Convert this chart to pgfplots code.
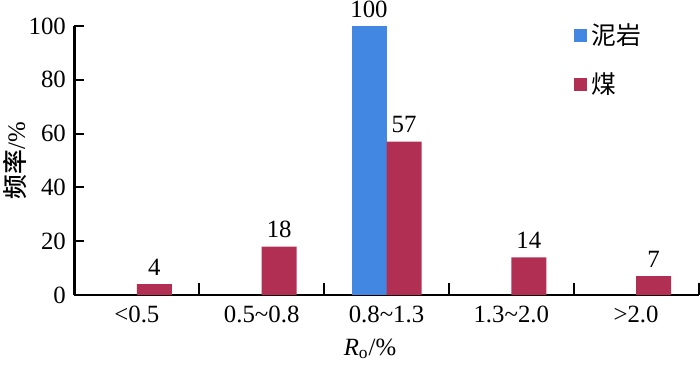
\documentclass[border=0pt]{standalone}
\usepackage{pgfplots}
\pgfplotsset{compat=1.18}
\usepackage{fontspec}
\setmainfont{Liberation Serif}
\newfontfamily\cjk{Noto Sans CJK SC}
\newfontfamily\cjkb{Noto Sans CJK SC Medium}
\definecolor{mblue}{RGB}{66,136,226}
\definecolor{mred}{RGB}{176,47,82}
\newcommand\fs{\fontsize{12.4pt}{14pt}\selectfont}
\begin{document}
\fs
\begin{tikzpicture}
\begin{axis}[
  scale only axis, width=312pt, height=134.5pt,
  xmin=-0.5, xmax=4.5, ymin=0, ymax=100,
  axis x line*=bottom, axis y line*=left,
  axis line style={line width=1.1pt},
  /pgf/number format/assume math mode=true,
  ybar=0pt, bar width=17.5pt,
  xtick={0,1,2,3,4},
  xticklabels={{<0.5},{0.5\textasciitilde0.8},{0.8\textasciitilde1.3},{1.3\textasciitilde2.0},{>2.0}},
  major x tick style={draw=none},
  minor xtick={-0.5,0.5,1.5,2.5,3.5,4.5},
  minor tick length=6pt,
  minor x tick style={line width=1pt, black},
  ytick={0,20,40,60,80,100},
  major tick length=5pt,
  major y tick style={line width=1pt, black},
  tick align=inside,
  ticklabel style={font=\fs},
  xticklabel style={yshift=-1pt},
  nodes near coords,
  every node near coord/.append style={font=\fs, text=black},
  every axis y label/.style={at={(axis description cs:0,0.5)}, rotate=90, anchor=center, yshift=29.5pt},
  every axis x label/.style={at={(axis description cs:0.4736,0)}, anchor=center, yshift=-27pt},
  ylabel={{\cjkb 频率}/\%},
  xlabel={\textit{R}\textsubscript{o}/\%},
  legend image code/.code={\fill[#1] (0pt,-3.25pt) rectangle (6.5pt,3.25pt);},
  legend style={draw=none, fill=none, at={(axis description cs:0.791,1.04)}, anchor=north west, row sep=8pt, font=\cjk\fs, cells={anchor=west}},
]
\addplot[fill=mblue, draw=none] coordinates {(2,100)};
\addlegendentry{泥岩}
\addplot[fill=mred, draw=none] coordinates {(0,4) (1,18) (2,57) (3,14) (4,7)};
\addlegendentry{煤}
\end{axis}
\pgfresetboundingbox
\path (current axis.south west) ++(-37.25pt,-37.5pt) rectangle ++(350pt,185pt);
\end{tikzpicture}
\end{document}
